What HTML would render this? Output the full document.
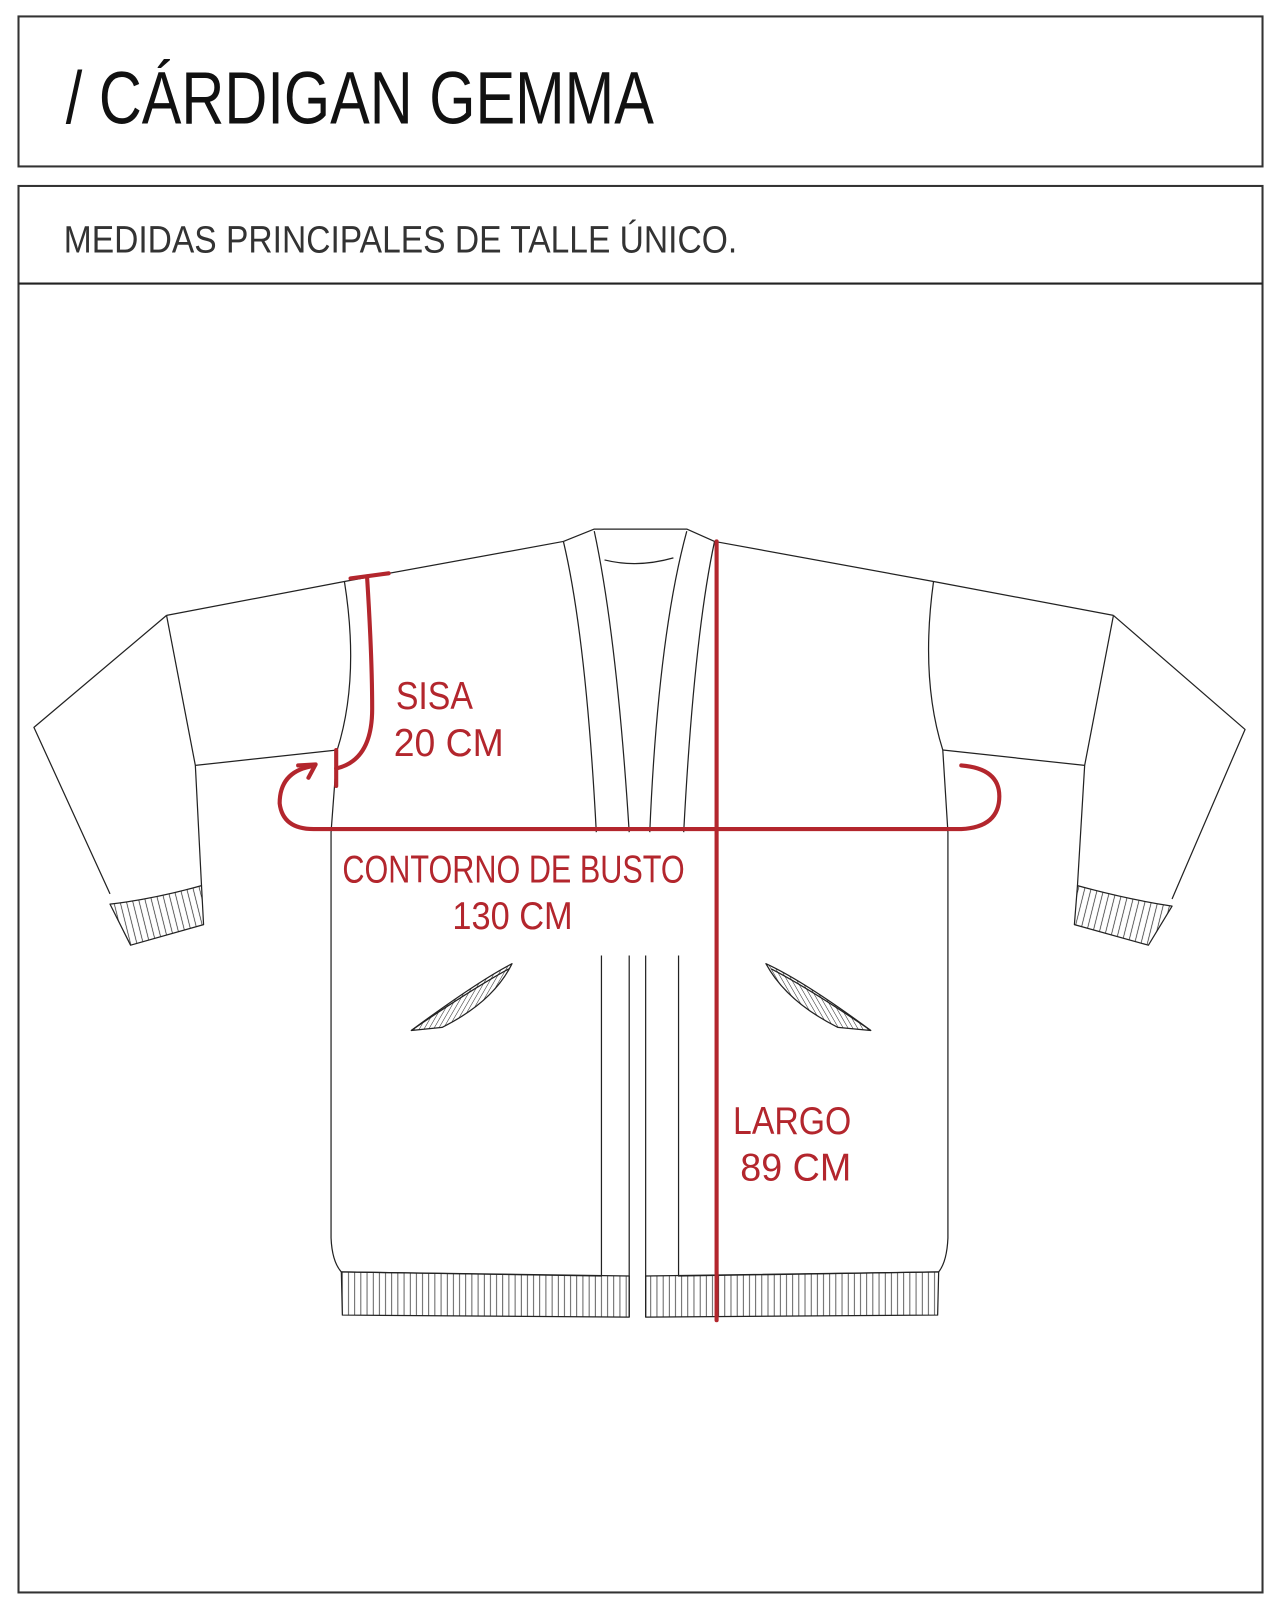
<!DOCTYPE html>
<html><head><meta charset="utf-8"><style>
html,body{margin:0;padding:0;background:#fff;}
svg{display:block}
</style></head><body>
<svg width="1280" height="1613" viewBox="0 0 1245 1570" preserveAspectRatio="none" xmlns="http://www.w3.org/2000/svg">
<defs>
<pattern id="rib" width="6" height="10" patternUnits="userSpaceOnUse"><line x1="3" y1="0" x2="3" y2="10" stroke="#222" stroke-width="0.7"/></pattern>
<pattern id="ribL" width="6" height="10" patternUnits="userSpaceOnUse" patternTransform="rotate(-14)"><line x1="3" y1="0" x2="3" y2="10" stroke="#222" stroke-width="0.7"/></pattern>
<pattern id="ribR" width="6" height="10" patternUnits="userSpaceOnUse" patternTransform="rotate(14)"><line x1="3" y1="0" x2="3" y2="10" stroke="#222" stroke-width="0.7"/></pattern>
<pattern id="ribP" width="4" height="10" patternUnits="userSpaceOnUse" patternTransform="rotate(30)"><line x1="2" y1="0" x2="2" y2="10" stroke="#222" stroke-width="0.5"/></pattern>
<pattern id="ribQ" width="4" height="10" patternUnits="userSpaceOnUse" patternTransform="rotate(-30)"><line x1="2" y1="0" x2="2" y2="10" stroke="#222" stroke-width="0.5"/></pattern>
</defs>
<rect x="18" y="16" width="1210" height="146" fill="none" stroke="#333" stroke-width="2"/>
<rect x="18" y="181" width="1210" height="1369" fill="none" stroke="#333" stroke-width="2"/>
<line x1="18" y1="276" x2="1228" y2="276" stroke="#222" stroke-width="2"/>
<text x="64" y="120" font-family="'Liberation Sans Narrow','Liberation Sans',sans-serif" font-size="72" fill="#111" textLength="572" lengthAdjust="spacingAndGlyphs">/ CÁRDIGAN GEMMA</text>
<text x="62" y="246" font-family="'Liberation Sans Narrow','Liberation Sans',sans-serif" font-size="37" fill="#333" textLength="655" lengthAdjust="spacingAndGlyphs">MEDIDAS  PRINCIPALES  DE  TALLE  ÚNICO.</text>

<g fill="none" stroke="#222" stroke-width="1.2" stroke-linejoin="round">
<path d="M548,527 L335,566 L162,599"/>
<path d="M695,527 L908,566 L1083,599"/>
<path d="M548,527 L578,515 L668,515 L695,527"/>
<path d="M588,545 Q620,553 655,543"/>
<path d="M548,527 Q570,620 580,810"/>
<path d="M578,517 Q600,620 612,810"/>
<path d="M668,517 Q640,620 632,810"/>
<path d="M695,527 Q675,620 665,810"/>
<path d="M162,599 L33,708 L107,870"/>
<path d="M162,599 L190,745 L196,862"/>
<path d="M190,745 L328,730"/>
<path d="M335,566 Q350,660 328,730"/>
<path d="M107,880 L127,920 L198,900 L196,862 Q150,875 107,880 Z" fill="url(#ribL)"/>
<path d="M1083,599 L1211,710 L1140,875"/>
<path d="M1083,599 L1055,745 L1048,862"/>
<path d="M1055,745 L917,730"/>
<path d="M908,566 Q895,660 917,730"/>
<path d="M1140,882 L1117,920 L1045,900 L1048,862 Q1095,875 1140,882 Z" fill="url(#ribR)"/>
<path d="M328,730 L322,810 L322,1205 Q323,1228 332,1238 L585,1242 L585,930"/>
<path d="M917,730 L922,810 L922,1205 Q921,1228 913,1238 L660,1242 L660,930"/>
<line x1="612" y1="930" x2="612" y2="1282"/>
<line x1="628" y1="930" x2="628" y2="1282"/>
<path d="M332,1238 L333,1280 L612,1282 L612,1242 Z" fill="url(#rib)"/>
<path d="M628,1242 L913,1238 L912,1280 L628,1282 Z" fill="url(#rib)"/>
<path d="M400,1003 Q465,955 498,938 Q480,975 430,1000 Z" fill="url(#ribP)"/>
<path d="M400,1003 Q460,962 495,943"/>
<path d="M847,1003 Q782,955 745,938 Q765,975 815,1000 Z" fill="url(#ribQ)"/>
<path d="M847,1003 Q787,962 750,943"/>
</g>

<g fill="none" stroke="#b3262d" stroke-width="4" stroke-linecap="round" stroke-linejoin="round">
<line x1="341" y1="563" x2="378" y2="558"/>
<path d="M357,561 Q362,640 362,690 Q362,740 327,748"/>
<line x1="327" y1="730" x2="327" y2="765"/>
<path d="M302,746 Q272,752 272,782 Q275,807 305,807 L935,807 Q972,805 972,775 Q972,748 935,745"/>
<path d="M290,745 L307,744 L300,757"/>
<line x1="697" y1="527" x2="697" y2="1285"/>
</g>
<g fill="#b3262d" font-family="'Liberation Sans Narrow','Liberation Sans',sans-serif" font-size="38">
<text x="385" y="690" textLength="75" lengthAdjust="spacingAndGlyphs">SISA</text>
<text x="383" y="736" textLength="107" lengthAdjust="spacingAndGlyphs">20 CM</text>
<text x="333" y="859" textLength="333" lengthAdjust="spacingAndGlyphs">CONTORNO DE BUSTO</text>
<text x="440" y="904" textLength="117" lengthAdjust="spacingAndGlyphs">130 CM</text>
<text x="713" y="1104" textLength="115" lengthAdjust="spacingAndGlyphs">LARGO</text>
<text x="720" y="1149" textLength="108" lengthAdjust="spacingAndGlyphs">89 CM</text>
</g>
</svg>
</body></html>
